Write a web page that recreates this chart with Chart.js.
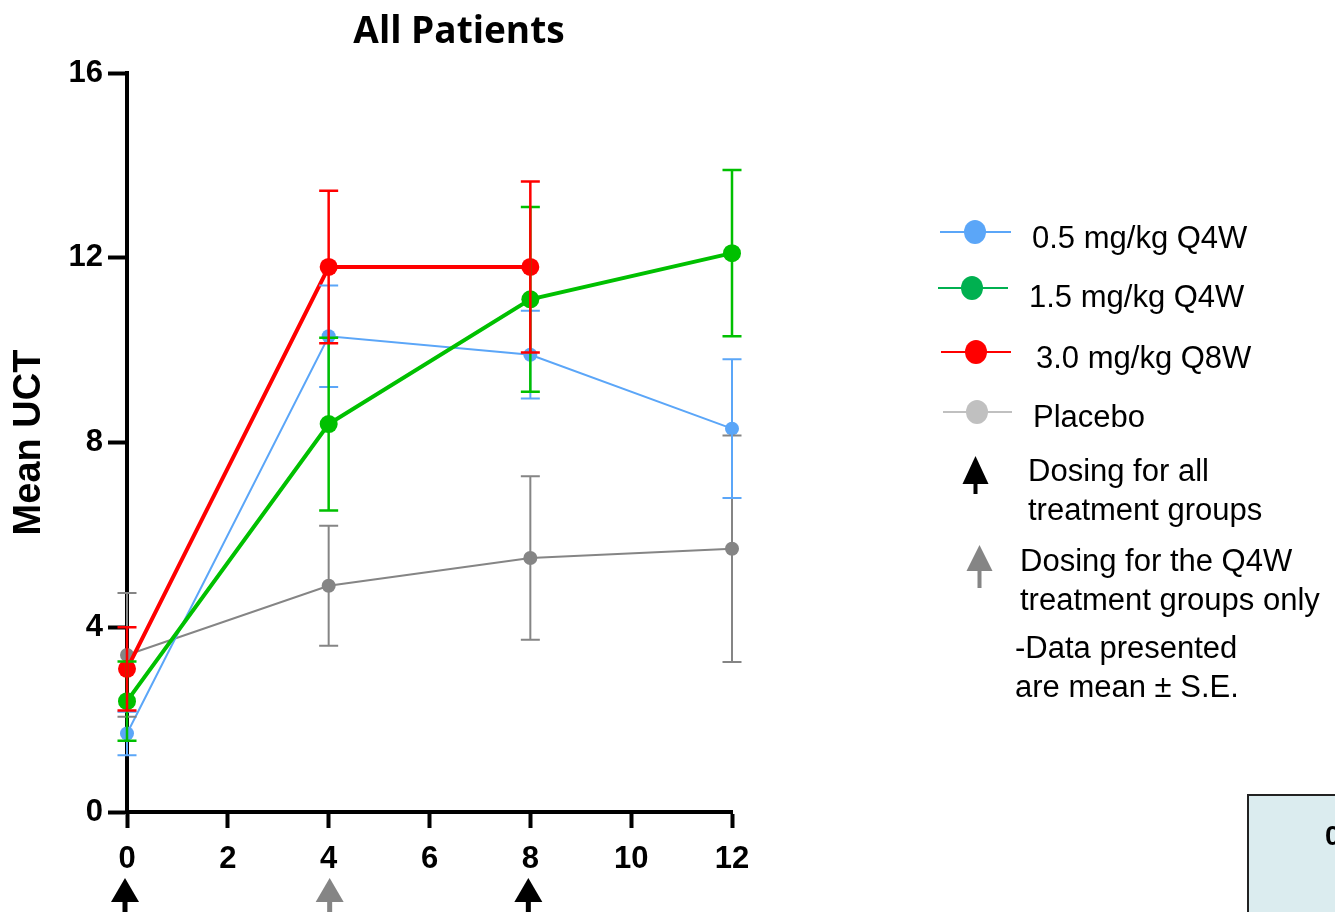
<!DOCTYPE html>
<html>
<head>
<meta charset="utf-8">
<title>All Patients - Mean UCT</title>
<script src="https://cdn.jsdelivr.net/npm/chart.js@4.4.0/dist/chart.umd.min.js"></script>
<style>
  html, body { margin: 0; padding: 0; background: #fff; overflow: hidden; }
  #wrap { position: relative; width: 1335px; height: 912px; overflow: hidden; }
  #chart { position: absolute; left: 0; top: 0; }
  .txt {
    position: absolute;
    font-family: "Liberation Sans", Arial, sans-serif;
    font-size: 31px;
    line-height: 39px;
    color: #000;
    white-space: nowrap;
  }
  .icon { position: absolute; left: 0; top: 0; }
  .table-box {
    position: absolute; left: 1247px; top: 794px; width: 200px; height: 200px;
    background: #dbecef; border: 2px solid #222; box-sizing: border-box;
  }
  .table-box span {
    position: absolute; left: 76px; top: 24px;
    font-family: "Liberation Sans", Arial, sans-serif; font-weight: bold; font-size: 28px;
  }
</style>
</head>
<body>
<div id="wrap">
  <canvas id="chart" width="1335" height="912"></canvas>
  <svg class="icon" id="legendIcons" width="1335" height="912"></svg>
  <div id="legend"></div>
  <div class="table-box"><span>0</span></div>
</div>
<script>
// weeks since first dose
const weeks = [0, 4, 8, 12];
const weeksQ8W = [0, 4, 8];

// mean UCT per group
const dose05 = [1.7, 10.3, 9.9, 8.3];
const dose15 = [2.4, 8.4, 11.1, 12.1];
const dose30 = [3.1, 11.8, 11.8];
const placebo = [3.4, 4.9, 5.5, 5.7];

// standard errors
const se05 = [0.47, 1.1, 0.95, 1.5];
const se15 = [0.86, 1.87, 2.0, 1.8];
const se30 = [0.9, 1.65, 1.85];
const sePlacebo = [1.34, 1.3, 1.77, 2.45];

const xTicks = [0, 2, 4, 6, 8, 10, 12];
const yTicks = [0, 4, 8, 12, 16];

// dosing weeks shown as arrows under the x axis
const dosingAll = [0, 8];
const dosingQ4W = [4];

const seriesLabels = ['0.5 mg/kg Q4W', '1.5 mg/kg Q4W', '3.0 mg/kg Q8W', 'Placebo'];

const BLUE = '#5ba6f8';
const GREEN = '#00c000';
const RED = '#ff0000';
const GREY = '#858585';

function toPoints(xs, ys) {
  return ys.map((v, i) => ({ x: xs[i], y: v }));
}

function makeSeries(label, xs, ys, se, color, lineW, radius, order) {
  return {
    label: label,
    data: toPoints(xs, ys),
    errors: se,
    borderColor: color,
    backgroundColor: color,
    borderWidth: lineW,
    pointRadius: radius,
    pointHoverRadius: radius,
    pointBorderWidth: 0,
    pointBackgroundColor: color,
    errorWidth: lineW > 2 ? 2.5 : 2,
    tension: 0,
    clip: false,
    order: order
  };
}

// error bars with caps, drawn from each dataset's "errors" array
const errorBars = {
  id: 'errorBars',
  afterDatasetsDraw(chart) {
    const ctx = chart.ctx;
    const xs = chart.scales.x;
    const ys = chart.scales.y;
    const drawOrder = [3, 0, 1, 2];
    drawOrder.forEach(i => {
      const ds = chart.data.datasets[i];
      ctx.save();
      ctx.strokeStyle = ds.borderColor;
      ctx.lineWidth = ds.errorWidth;
      ds.data.forEach((pt, j) => {
        const se = ds.errors[j];
        const px = xs.getPixelForValue(pt.x);
        const top = ys.getPixelForValue(pt.y + se);
        const bot = ys.getPixelForValue(pt.y - se);
        ctx.beginPath();
        ctx.moveTo(px, top);
        ctx.lineTo(px, bot);
        ctx.moveTo(px - 9.5, top);
        ctx.lineTo(px + 9.5, top);
        ctx.moveTo(px - 9.5, bot);
        ctx.lineTo(px + 9.5, bot);
        ctx.stroke();
      });
      ctx.restore();
    });
  }
};

function drawArrow(ctx, cx, tipY, color) {
  ctx.save();
  ctx.fillStyle = color;
  ctx.beginPath();
  ctx.moveTo(cx, tipY);
  ctx.lineTo(cx + 14, tipY + 24);
  ctx.lineTo(cx - 14, tipY + 24);
  ctx.closePath();
  ctx.fill();
  ctx.fillRect(cx - 2.5, tipY + 23, 5, 20);
  ctx.restore();
}

// dosing arrows below the week labels, plus the chart heading
const dosingMarks = {
  id: 'dosingMarks',
  afterDraw(chart) {
    const ctx = chart.ctx;
    const xs = chart.scales.x;
    dosingAll.forEach(w => drawArrow(ctx, xs.getPixelForValue(w) - 2, 878, '#000'));
    dosingQ4W.forEach(w => drawArrow(ctx, xs.getPixelForValue(w) + 1, 878, '#858585'));

    ctx.save();
    ctx.fillStyle = '#000';
    ctx.font = 'bold 37px "Open Sans", sans-serif';
    ctx.textAlign = 'center';
    ctx.textBaseline = 'middle';
    ctx.fillText('All Patients', 459, 32);
    ctx.restore();
  }
};

const tickFont = { family: '"Liberation Sans", Arial, sans-serif', size: 31, weight: 'bold' };

const chart = new Chart(document.getElementById('chart').getContext('2d'), {
  type: 'line',
  data: {
    datasets: [
      makeSeries(seriesLabels[0], weeks, dose05, se05, BLUE, 2, 7, 2),
      makeSeries(seriesLabels[1], weeks, dose15, se15, GREEN, 4, 9, 1),
      makeSeries(seriesLabels[2], weeksQ8W, dose30, se30, RED, 4, 9, 0),
      makeSeries(seriesLabels[3], weeks, placebo, sePlacebo, GREY, 2, 7, 3)
    ]
  },
  options: {
    responsive: false,
    animation: false,
    layout: { padding: { top: 73, right: 603, bottom: 0, left: 0 } },
    plugins: {
      legend: { display: false },
      title: { display: false },
      tooltip: { enabled: false }
    },
    scales: {
      x: {
        type: 'linear',
        min: 0,
        max: 12,
        afterBuildTicks: scale => { scale.ticks = xTicks.map(v => ({ value: v })); },
        border: { color: '#000', width: 4 },
        grid: { drawOnChartArea: false, color: '#000', tickLength: 16, tickWidth: 4 },
        ticks: { color: '#000', font: tickFont, padding: 13 },
        afterFit: scale => { scale.height = 100; }
      },
      y: {
        min: 0,
        max: 16,
        afterBuildTicks: scale => { scale.ticks = yTicks.map(v => ({ value: v })); },
        border: { color: '#000', width: 4 },
        grid: { drawOnChartArea: false, color: '#000', tickLength: 19, tickWidth: 4 },
        ticks: { color: '#000', font: tickFont, padding: 5 },
        title: {
          display: true,
          text: 'Mean UCT',
          color: '#000',
          font: { family: '"Liberation Sans", Arial, sans-serif', size: 38, weight: 'bold' },
          padding: { top: 7, bottom: 0 }
        },
        afterFit: scale => { scale.width = 127; }
      }
    }
  },
  plugins: [errorBars, dosingMarks]
});

// legend on the right: series keys, dosing arrow keys and the note
function buildLegend() {
  const svg = document.getElementById('legendIcons');
  const box = document.getElementById('legend');
  const keyColors = [BLUE, '#00b050', RED, '#c0c0c0'];
  const rows = [
    { y: 232, x1: 940, x2: 1011, dot: 975, textX: 1032, textY: 218 },
    { y: 288, x1: 938, x2: 1008, dot: 972, textX: 1029, textY: 277 },
    { y: 352, x1: 941, x2: 1011, dot: 976, textX: 1036, textY: 338 },
    { y: 412, x1: 943, x2: 1012, dot: 977, textX: 1033, textY: 397 }
  ];
  let html = '';
  let marks = '';
  rows.forEach((r, i) => {
    marks += `<line x1="${r.x1}" y1="${r.y}" x2="${r.x2}" y2="${r.y}" stroke="${keyColors[i]}" stroke-width="2"/>`;
    marks += `<ellipse cx="${r.dot}" cy="${r.y}" rx="11" ry="12" fill="${keyColors[i]}"/>`;
    html += `<div class="txt" style="left:${r.textX}px;top:${r.textY}px">${seriesLabels[i]}</div>`;
  });

  // dosing arrow keys
  marks += '<polygon points="975.5,456 988.5,484 962.5,484" fill="#000"/>';
  marks += '<rect x="973.5" y="482" width="4" height="12" fill="#000"/>';
  marks += '<polygon points="979.5,545 992.5,571 966.5,571" fill="#858585"/>';
  marks += '<rect x="977.5" y="569" width="4" height="19" fill="#858585"/>';

  html += '<div class="txt" style="left:1028px;top:451px">Dosing for all<br>treatment groups</div>';
  html += '<div class="txt" style="left:1020px;top:541px">Dosing for the Q4W<br>treatment groups only</div>';
  html += '<div class="txt" style="left:1015px;top:628px">-Data presented<br>are mean ± S.E.</div>';

  svg.innerHTML = marks;
  box.innerHTML = html;
}

buildLegend();
</script>
</body>
</html>
